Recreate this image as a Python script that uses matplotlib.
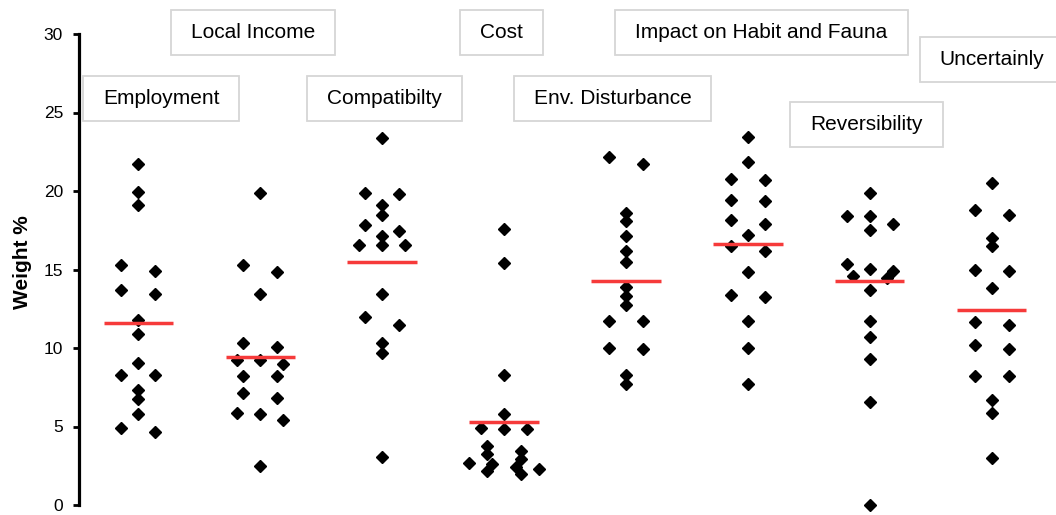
import numpy as np
import matplotlib
matplotlib.use('Agg')
import matplotlib.pyplot as plt
from matplotlib.patches import Rectangle

plt.rcParams['font.family'] = ['Liberation Sans', 'DejaVu Sans']

# criteria shown as boxed labels above the dots
criteria = ['Employment', 'Local Income', 'Compatibilty', 'Cost',
            'Env. Disturbance', 'Impact on Habit and Fauna', 'Reversibility', 'Uncertainly']

# individual weights (%), one list per criterion
employment = [21.74, 19.95, 19.11, 15.27, 14.91, 13.72, 13.44, 11.76, 10.88, 9.07,
              8.25, 8.25, 7.30, 6.78, 5.78, 4.89, 4.62]
local_income = [19.85, 15.29, 14.85, 13.44, 10.33, 10.04, 9.24, 9.24, 8.97, 8.23,
                8.19, 7.14, 6.83, 5.88, 5.82, 5.40, 2.46]
compatibility = [23.38, 19.85, 19.80, 19.11, 18.48, 17.85, 17.47, 17.12, 16.53, 16.53,
                 16.53, 13.44, 11.97, 11.49, 10.29, 9.66, 3.04]
cost = [17.58, 15.40, 8.30, 5.82, 4.93, 4.83, 4.83, 3.78, 3.47, 3.26,
        2.94, 2.67, 2.63, 2.41, 2.31, 2.14, 2.00]
env_disturbance = [22.16, 21.74, 18.63, 18.06, 17.12, 16.17, 15.48, 13.90, 13.34, 12.75,
                   11.72, 11.70, 10.02, 9.94, 8.25, 7.71]
impact_fauna = [23.42, 21.84, 20.79, 20.73, 19.43, 19.37, 18.17, 17.90, 17.18, 16.49,
                16.17, 14.87, 13.38, 13.23, 11.70, 10.02, 7.71]
reversibility = [19.85, 18.38, 18.38, 17.90, 17.54, 15.33, 15.06, 14.91, 14.60, 14.45,
                 13.69, 11.70, 10.71, 9.28, 6.55, 0.0]
uncertainly = [20.52, 18.80, 18.48, 17.01, 16.49, 14.98, 14.91, 13.80, 11.66, 11.49,
               10.19, 9.91, 8.19, 8.19, 6.68, 5.84, 3.00]

# red bars (group means) as drawn in the picture
means = [11.6, 9.45, 15.45, 5.3, 14.25, 16.6, 14.25, 12.4]

# where the boxed labels sit (data coords)
label_x = [0.19, 0.94, 2.02, 2.98, 3.89, 5.11, 5.97, 7.0]
label_y = [25.9, 30.1, 25.9, 30.1, 25.9, 30.1, 24.25, 28.35]

groups = [employment, local_income, compatibility, cost,
          env_disturbance, impact_fauna, reversibility, uncertainly]


def spread(values, tol=0.5):
    # simple Prism-like layout: near-equal values share a row, centred on the group
    vals = sorted(values, reverse=True)
    offs = []
    i = 0
    while i < len(vals):
        j = i
        while j + 1 < len(vals) and vals[i] - vals[j + 1] < tol:
            j += 1
        n = j - i + 1
        step = 0.28 if n == 2 else 0.19
        offs += [(k - (n - 1) / 2) * step for k in range(n)]
        i = j + 1
    return np.array(vals), np.array(offs)


fig = plt.figure(figsize=(10.56, 5.15), dpi=100)
ax = fig.add_axes([79 / 1056, 10 / 515, 1 - 79 / 1056, 471 / 515])
ax.set_xlim(-0.484, 7.525)
ax.set_ylim(0, 30)
ax.set_autoscale_on(False)

for i, g in enumerate(groups):
    ys, offs = spread(g)
    ax.plot(i + offs, ys, 'D', color='black', ms=6.2, linestyle='none', clip_on=False, zorder=3)
    ax.hlines(means[i], i - 0.283, i + 0.283, color='#f63a3a', lw=2.5, zorder=4)

for s in ['top', 'right', 'bottom']:
    ax.spines[s].set_visible(False)
ax.spines['left'].set_linewidth(2.3)
ax.set_xticks([])
ax.set_yticks(range(0, 31, 5))
ax.tick_params(axis='y', length=4.5, width=2, pad=7, labelsize=12.5)
ax.set_ylabel('Weight %', fontsize=15, fontweight='bold')
ax.yaxis.set_label_coords(-0.048, 0.515)

texts = []
for name, x, y in zip(criteria, label_x, label_y):
    t = ax.text(x, y, name, ha='center', va='center', fontsize=15, clip_on=False, zorder=6)
    texts.append(t)

# boxes around the labels, wider than tall like the original
fig.canvas.draw()
rend = fig.canvas.get_renderer()
inv = ax.transData.inverted()
for t in texts:
    bb = t.get_window_extent(rend)
    (x0, y0), (x1, y1) = inv.transform([[bb.x0 - 20, bb.y0 - 13], [bb.x1 + 20, bb.y1 + 13]])
    ax.add_patch(Rectangle((x0, y0), x1 - x0, y1 - y0, facecolor='white',
                           edgecolor='#d6d6d6', lw=1.3, clip_on=False, zorder=5))

fig.savefig('out.png', dpi=100)
